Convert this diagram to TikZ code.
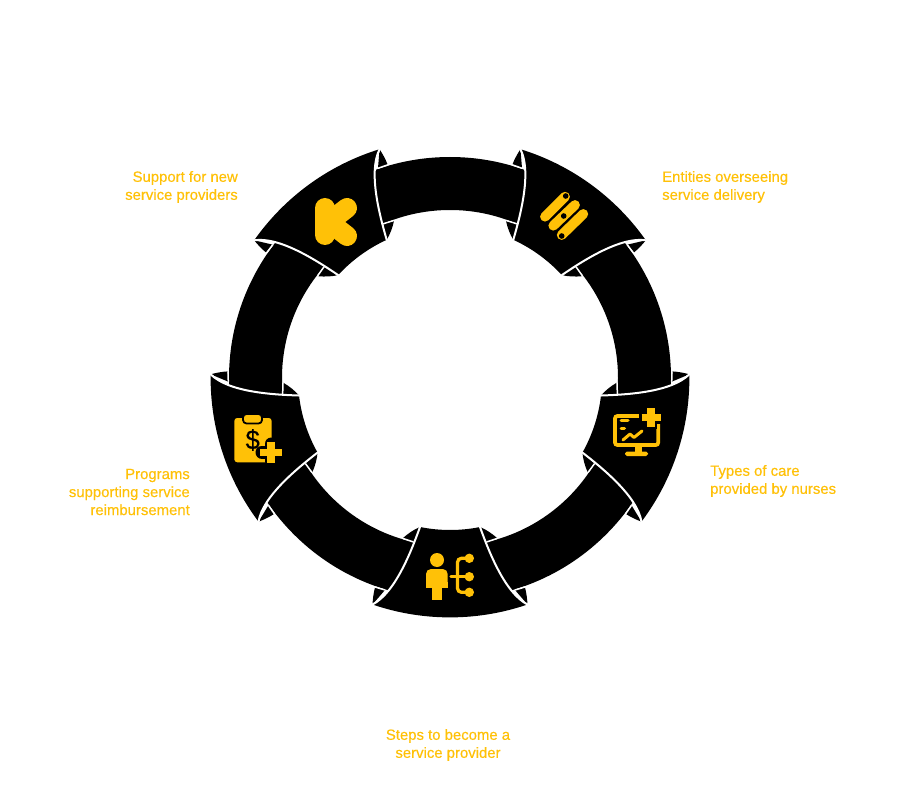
\documentclass[tikz,border=0pt]{standalone}
\usepackage{fontspec}
\setmainfont[FakeBold=0.3]{Liberation Sans}
\definecolor{amber}{HTML}{FFC107}
\tikzset{
  ringline/.style={white,line width=2pt,line cap=round},
  thinline/.style={white,line width=1.5pt},
  lab/.style={text=amber,font=\fontsize{14.9}{18}\selectfont,inner sep=0pt}
}
\begin{document}
\begin{tikzpicture}[x=1pt,y=1pt]
\useasboundingbox (0,0) rectangle (900,-810);
\fill[white] (0,0) rectangle (900,-810);
\begin{scope}[shift={(450,-378)}]
  \fill[black,even odd rule] (0,0) circle[radius=221] (0,0) circle[radius=168];
  \foreach \a in {0,72,144,216,288}{
    \begin{scope}[rotate=\a]
      % flaps
      \foreach \s in {1,-1}{
        \begin{scope}[xscale=\s]
          \fill[black] (30,-149) .. controls (36,-151.5) and (42,-155.5) .. (47,-160) -- (36.6,-164) -- cycle;
          \fill[black] (65,-212) -- (75,-209.5) .. controls (76.5,-215) and (77.2,-221) .. (77.5,-226.5) -- cycle;
          \draw[thinline] (36.6,-164) -- (47,-160.5);
          \draw[thinline] (65,-212) -- (75,-209);
        \end{scope}
      }
      % head
      \fill[black] (77.5,-226.5) arc[start angle=288.89,end angle=251.11,radius=239.4]
        .. controls (-55,-215) and (-39,-174) .. (-30,-149)
        arc[start angle=258.6,end angle=281.4,radius=152]
        .. controls (39,-174) and (55,-215) .. (77.5,-226.5) -- cycle;
      \draw[ringline] (-77.5,-226.5) .. controls (-55,-215) and (-39,-174) .. (-30,-149);
      \draw[ringline] (77.5,-226.5) .. controls (55,-215) and (39,-174) .. (30,-149);
    \end{scope}
  }
\end{scope}
\begin{scope}[y=-1pt]
  % K icon
  \draw[amber,line width=20pt,line cap=round] (325,208) -- (325,235);
  \draw[amber,line width=20pt,line cap=round,line join=round] (347,208) -- (329,222) -- (347,236);
  % bars icon
  \draw[amber,line width=9.8pt,line cap=round] (545,216.7) -- (565,196.7);
  \draw[amber,line width=9.8pt,line cap=round] (553.3,225.7) -- (575,205);
  \draw[amber,line width=9.8pt,line cap=round] (561.7,235) -- (583.3,214);
  \fill[black] (565.7,196) circle[radius=2.8] (563.7,216) circle[radius=2.8] (561.7,236) circle[radius=2.8];
  % monitor icon
  \draw[amber,line width=3.8pt,rounded corners=2.5pt] (640,416) -- (615,416) -- (615,445) -- (658.2,445) -- (658.2,424);
  \fill[amber] (635,446) rectangle (642,452);
  \fill[amber,rounded corners=1.8pt] (625,451.5) rectangle (648,456);
  \draw[amber,line width=3pt,line cap=round] (621,420.8) -- (628,420.8);
  \draw[amber,line width=3pt,line cap=round] (621,428) -- (624.5,428);
  \draw[amber,line width=3pt,line cap=round,line join=round] (623,440) -- (630,434) -- (634,437.5) -- (642,431);
  \draw[black,line width=11.5pt] (651,405.5) -- (651,429) (639,417.3) -- (663,417.3);
  \draw[amber,line width=7.2pt] (651,408) -- (651,426.7) (641.5,417.3) -- (660.5,417.3);
  % person icon
  \fill[amber] (437,560) circle[radius=7];
  \fill[amber,rounded corners=5pt] (426,587.5) -- (426,569) -- (447.7,569) -- (447.7,587.5) -- cycle;
  \fill[amber] (426,582) rectangle (447.7,587.5);
  \fill[amber] (431.7,585) rectangle (442.3,600);
  \draw[amber,line width=3.3pt,line cap=round] (451,576.7) -- (469,576.7);
  \draw[amber,line width=3.3pt,rounded corners=4pt] (469,558.3) -- (457.5,558.3) -- (457.5,592.3) -- (469,592.3);
  \fill[amber] (469.3,558.3) circle[radius=4.7] (469.3,576.7) circle[radius=4.7] (469.3,592.3) circle[radius=4.7];
  % clipboard icon
  \fill[amber,rounded corners=3pt] (234.3,418) rectangle (271.7,462.3);
  \draw[black,fill=amber,line width=1.8pt,rounded corners=3.5pt] (243,414) rectangle (262,423.5);
  \node[text=black,font=\fontsize{27}{27}\selectfont,inner sep=0pt,xscale=.95] (dollar) at (252.7,440) {\$};
  \draw[black,line width=13pt,line cap=round] (271,444) -- (271,461) (262,452.3) -- (280,452.3);
  \draw[amber,line width=7.6pt] (271,441.8) -- (271,462.8) (260,452.3) -- (282,452.3);
  % labels
  \node[lab,align=right,anchor=east] (l1) at (238,187) {Support for new\\service providers};
  \node[lab,align=left,anchor=west] (l2) at (662,187) {Entities overseeing\\service delivery};
  \node[lab,align=left,anchor=west] (l3) at (710,481) {Types of care\\provided by nurses};
  \node[lab,align=center,anchor=center] (l4) at (448,745) {Steps to become a\\service provider};
  \node[lab,align=right,anchor=east] (l5) at (190,492) {Programs\\supporting service\\reimbursement};
\end{scope}
\end{tikzpicture}
\end{document}
